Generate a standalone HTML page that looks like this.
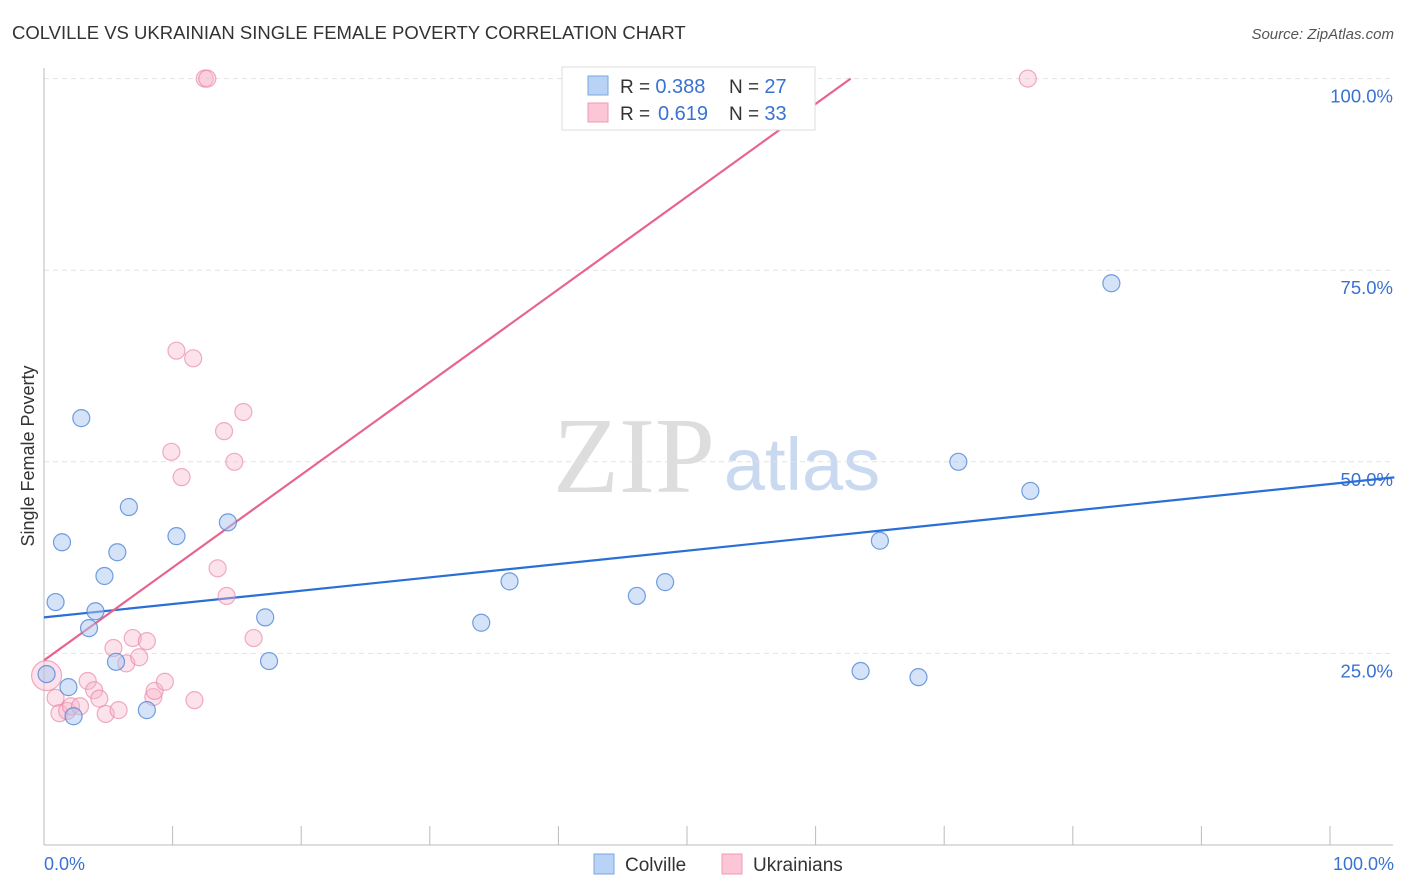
<!DOCTYPE html>
<html><head><meta charset="utf-8"><style>
body{margin:0;background:#fff;font-family:"Liberation Sans",sans-serif;}
svg{display:block}
</style></head><body>
<svg id="c" width="1406" height="892" xmlns="http://www.w3.org/2000/svg">
<text x="12" y="39" font-size="18.5" fill="#333">COLVILLE VS UKRAINIAN SINGLE FEMALE POVERTY CORRELATION CHART</text>
<text x="1394" y="39" font-size="15" fill="#555" font-style="italic" text-anchor="end">Source: ZipAtlas.com</text>
<text x="34" y="456" font-size="18" fill="#333" text-anchor="middle" transform="rotate(-90 34 456)">Single Female Poverty</text>
<g>
<text x="634" y="492" font-size="108" font-family="Liberation Serif,serif" fill="#ddd" text-anchor="middle">ZIP</text>
<text x="802" y="490" font-size="74" fill="#c9d9ef" text-anchor="middle">atlas</text>
</g>
<g id="grid"></g><g id="axes"></g><g id="lines"></g><g id="pts"></g>
<g>
<rect x="562" y="67" width="253" height="63" fill="#fff" stroke="#ddd"/>
<rect x="588" y="76" width="20" height="19" fill="#b8d3f5" stroke="#7aa7e0"/>
<rect x="588" y="103" width="20" height="19" fill="#fcc6d6" stroke="#ee9ab4"/>
<text x="620" y="93" font-size="19" fill="#333">R = <tspan fill="#3a72d0" font-size="20">0.388</tspan><tspan x="729">N = </tspan><tspan fill="#3a72d0" font-size="20">27</tspan></text>
<text x="620" y="120" font-size="19" fill="#333">R = <tspan x="658" fill="#3a72d0" font-size="20">0.619</tspan><tspan x="729">N = </tspan><tspan fill="#3a72d0" font-size="20">33</tspan></text>
</g>
<g>
<rect x="594" y="854" width="20" height="20" fill="#b8d3f5" stroke="#7aa7e0"/>
<text x="625" y="871" font-size="19" fill="#333">Colville</text>
<rect x="722" y="854" width="20" height="20" fill="#fcc6d6" stroke="#ee9ab4"/>
<text x="753" y="871" font-size="19" fill="#333">Ukrainians</text>
</g>
<text x="44" y="870" font-size="18" fill="#3a72d0">0.0%</text>
<text x="1394" y="870" font-size="18" fill="#3a72d0" text-anchor="end">100.0%</text>
</svg>
<script>
const yTicks=[25,50,75,100];
const yTickLabels=["25.0%","50.0%","75.0%","100.0%"];
const xTicks=[10,20,30,40,50,60,70,80,90,100];
const blueX=[0.2,0.9,1.4,1.9,2.3,2.9,3.5,4.0,4.7,5.6,5.7,6.6,8.0,10.3,14.3,17.2,17.5,34.0,36.2,46.1,48.3,63.5,65.0,68.0,71.1,76.7,83.0];
const blueY=[22.3,31.7,39.5,20.6,16.8,55.7,28.3,30.5,35.1,23.9,38.2,44.1,17.6,40.3,42.1,29.7,24.0,29.0,34.4,32.5,34.3,22.7,39.7,21.9,50.0,46.2,73.3];
const pinkX=[0.2,0.9,1.2,1.8,2.1,2.8,3.4,3.9,4.3,4.8,5.4,5.8,6.4,6.9,7.4,8.0,8.5,8.6,9.4,9.9,10.3,10.7,11.6,11.7,12.5,12.7,13.5,14.0,14.2,14.8,15.5,16.3,76.5];
const pinkY=[22.1,19.2,17.2,17.5,18.1,18.1,21.4,20.2,19.1,17.1,25.7,17.6,23.7,27.0,24.5,26.6,19.3,20.1,21.3,51.3,64.5,48.0,63.5,18.9,100,100,36.1,54.0,32.5,50.0,56.5,27.0,100];
const blueLine=[29.7,47.1];
const pinkLine=[24.1,1.21];
const NS="http://www.w3.org/2000/svg";
const X=v=>44+v*12.86, Y=v=>845-v*7.664;
function mk(t,a,p){const e=document.createElementNS(NS,t);for(const k in a)e.setAttribute(k,a[k]);p.appendChild(e);return e;}
const grid=document.getElementById('grid'),axes=document.getElementById('axes'),lines=document.getElementById('lines'),pts=document.getElementById('pts');
yTicks.forEach((t,i)=>{
 const g=mk('line',{x1:44,x2:1393,y1:Y(t),y2:Y(t),stroke:'#e2e2e2','stroke-dasharray':'5,4'},grid);
 
 
 const l=mk('text',{x:1393,y:Y(t)+24,'font-size':18.5,fill:'#3a72d0','text-anchor':'end'},axes);
 l.textContent=yTickLabels[i];
 
 
});
const xa=mk('line',{x1:44,x2:1393,y1:845,y2:845,stroke:'#bbb'},axes);


const ya=mk('line',{x1:44,x2:44,y1:68,y2:845,stroke:'#bbb'},axes);


xTicks.forEach(t=>{
 const k=mk('line',{x1:X(t),x2:X(t),y1:826,y2:845,stroke:'#bbb'},axes);
 
 
});
const bl=mk('line',{x1:X(0),y1:Y(blueLine[0]),x2:X(105),y2:Y(blueLine[0]+(blueLine[1]-blueLine[0])*1.05),stroke:'#2a6fd6','stroke-width':2.2},lines);


const xEnd=(100-pinkLine[0])/pinkLine[1];
const pl=mk('line',{x1:X(0),y1:Y(pinkLine[0]),x2:X(xEnd),y2:Y(100),stroke:'#e8648e','stroke-width':2.2},lines);


pinkX.forEach((v,i)=>{
 const c=mk('circle',{cx:X(v),cy:Y(pinkY[i]),r:i===0?15:8.5,fill:'rgba(248,182,202,0.4)',stroke:'rgba(232,130,165,0.65)','stroke-width':1.2},pts);
 
 
});
blueX.forEach((v,i)=>{
 const c=mk('circle',{cx:X(v),cy:Y(blueY[i]),r:8.5,fill:'rgba(170,200,240,0.5)',stroke:'rgba(80,135,215,0.8)','stroke-width':1.2},pts);
 
 
});
</script>
</body></html>
